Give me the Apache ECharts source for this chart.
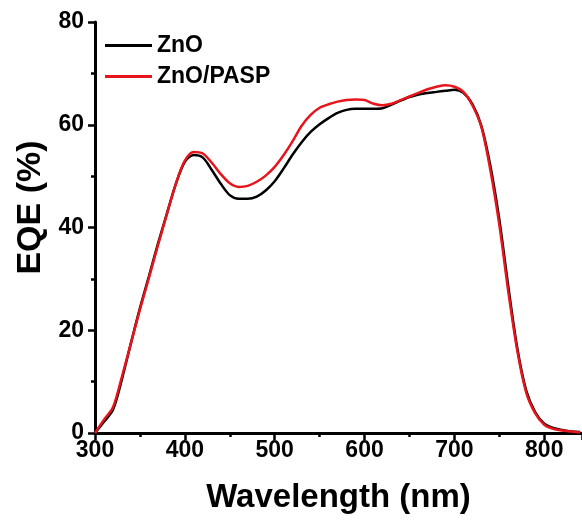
<!DOCTYPE html>
<html>
<head>
<meta charset="utf-8">
<script src="https://cdn.jsdelivr.net/npm/echarts@6/dist/echarts.min.js"></script>
<style>html,body{margin:0;padding:0;background:#fff}#c{width:582px;height:525px}</style>
</head>
<body>
<div id="c"></div>
<script>
const wavelengths = [300,310,320,330,340,350,360,370,380,390,400,410,420,430,440,450,460,470,480,490,500,510,520,530,540,550,560,570,580,590,600,610,620,630,640,650,660,670,680,690,700,710,720,730,740,750,760,770,780,790,800,810,820,830,840];
const eqeZnO = [0,2.2,4.5,10.5,17.5,24.3,30.5,36.8,42.7,48.5,52.8,54.1,53.6,51.2,48.5,46.3,45.6,45.6,46.0,47.2,49.0,51.5,54.2,56.6,58.6,60.1,61.3,62.3,62.9,63.1,63.1,63.1,63.2,63.9,64.7,65.4,65.9,66.2,66.4,66.6,66.8,66.2,64.0,59.8,52.0,41.5,28.5,16.5,8.2,4.0,1.8,1.0,0.6,0.3,0.2];
const eqePASP = [0,2.6,5.0,11.0,17.5,24.0,30.2,36.5,42.6,48.5,53.0,54.7,54.4,52.6,50.4,48.6,47.9,48.1,48.9,50.1,51.8,54.1,56.8,59.8,61.9,63.3,64.0,64.5,64.8,64.9,64.8,64.1,63.8,64.1,64.8,65.5,66.2,66.9,67.4,67.7,67.4,66.4,63.8,59.6,51.2,40.5,27.5,16.0,7.8,3.8,1.6,0.8,0.5,0.3,0.1];
const seriesNames = ['ZnO','ZnO/PASP'];
const xTicks = {min:300, max:842, interval:100};
const yTicks = {min:0, max:80, interval:20};

const chart = echarts.init(document.getElementById('c'), null, {renderer:'canvas'});
const font = 'Liberation Sans, Arial, sans-serif';
const pair = (xs, ys) => xs.map((x,i)=>[x, ys[i]]);
chart.setOption({
  animation:false,
  backgroundColor:'#fff',
  grid:{left:95, right:0, top:22, bottom:92},
  legend:{
    orient:'vertical', left:100, top:29,
    itemWidth:47, itemHeight:3, itemGap:8,
    icon:'rect',
    textStyle:{fontFamily:font, fontWeight:'bold', fontSize:23, color:'#000'},
    data:seriesNames
  },
  xAxis:[{
    type:'value', min:xTicks.min, max:xTicks.max, interval:xTicks.interval,
    name:'Wavelength (nm)', nameLocation:'middle', nameGap:48,
    nameTextStyle:{fontFamily:font, fontWeight:'bold', fontSize:33, color:'#000'},
    axisLine:{show:true, onZero:false, lineStyle:{color:'#000', width:3}},
    axisTick:{show:true, length:7, lineStyle:{color:'#000', width:2.5}},
    minorTick:{show:true, splitNumber:2, length:4, lineStyle:{color:'#000', width:2.5}},
    axisLabel:{fontFamily:font, fontWeight:'bold', fontSize:23, color:'#000', margin:6, showMaxLabel:false},
    splitLine:{show:false}
  },{
    type:'value', position:'top', min:xTicks.min, max:xTicks.max,
    axisLine:{show:true, lineStyle:{color:'#000', width:3}},
    axisTick:{show:false}, axisLabel:{show:false}, splitLine:{show:false}
  }],
  yAxis:{
    type:'value', min:yTicks.min, max:yTicks.max, interval:yTicks.interval,
    name:'EQE (%)', nameLocation:'middle', nameGap:46,
    nameTextStyle:{fontFamily:font, fontWeight:'bold', fontSize:34, color:'#000', padding:[0,0,0,40]},
    axisLine:{show:true, onZero:false, lineStyle:{color:'#000', width:3}},
    axisTick:{show:true, length:7, lineStyle:{color:'#000', width:2.5}},
    minorTick:{show:true, splitNumber:2, length:4, lineStyle:{color:'#000', width:2.5}},
    axisLabel:{fontFamily:font, fontWeight:'bold', fontSize:23, color:'#000', margin:11},
    splitLine:{show:false}
  },
  series:[
    {name:seriesNames[0], type:'line', data:pair(wavelengths, eqeZnO), smooth:0.3, showSymbol:false, symbol:'none',
     lineStyle:{color:'#000', width:2.5}, itemStyle:{color:'#000'}},
    {name:seriesNames[1], type:'line', data:pair(wavelengths, eqePASP), smooth:0.3, showSymbol:false, symbol:'none',
     lineStyle:{color:'#e8141b', width:2.5}, itemStyle:{color:'#e8141b'}}
  ]
});
</script>
</body>
</html>
